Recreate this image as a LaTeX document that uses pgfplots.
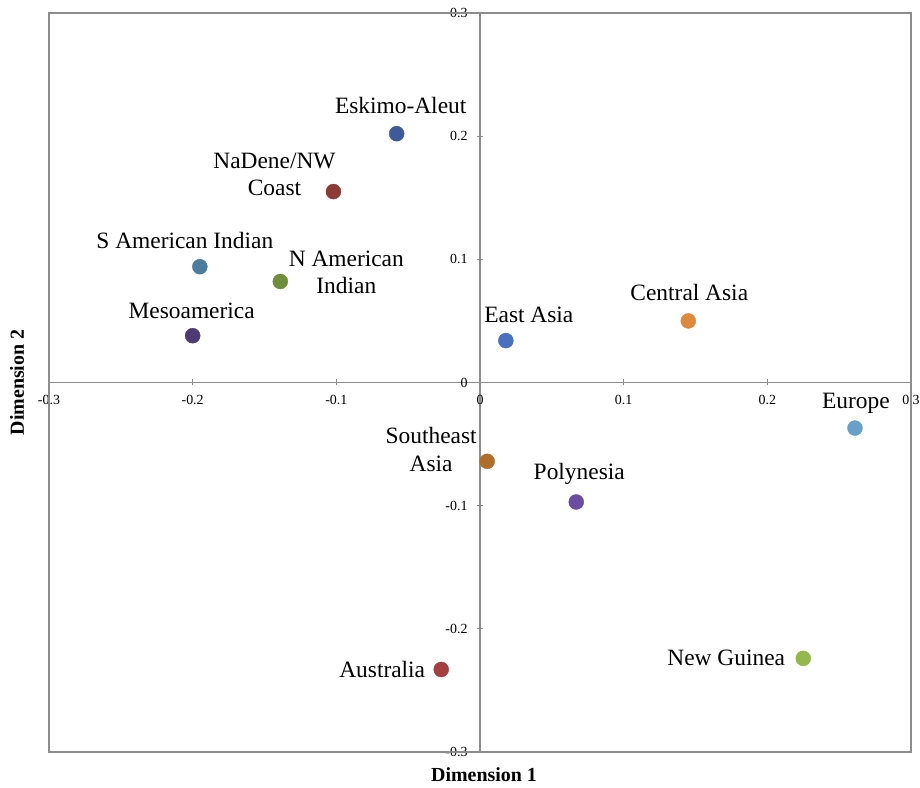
\documentclass[border=0pt]{standalone}
\usepackage{fontspec}
\setmainfont{Liberation Serif}
\usepackage{pgfplots}
\pgfplotsset{compat=1.18}

\definecolor{axgray}{HTML}{8C8C8C}
\definecolor{cEskimo}{HTML}{3F5A9A}
\definecolor{cNaDene}{HTML}{8B3A36}
\definecolor{cSAm}{HTML}{4D7D9D}
\definecolor{cNAm}{HTML}{6F8E3A}
\definecolor{cMeso}{HTML}{4F3B74}
\definecolor{cEAsia}{HTML}{4A70C0}
\definecolor{cCAsia}{HTML}{DE8A3E}
\definecolor{cEurope}{HTML}{67A0C8}
\definecolor{cSEAsia}{HTML}{B06D2A}
\definecolor{cPoly}{HTML}{6A4DA0}
\definecolor{cAustralia}{HTML}{A53E3E}
\definecolor{cNGuinea}{HTML}{95B84C}

\newcommand{\labelfont}{\fontsize{23.5}{27.5}\selectfont}

% one coloured point with its name: colour, x, y, name, xshift, yshift
\newcommand{\region}[6]{%
  \addplot[only marks, mark=*, mark size=7.5bp, draw=#1, fill=#1,
    nodes near coords={#4},
    every node near coord/.append style={anchor=center, align=center,
      font=\labelfont, text=black, inner sep=0pt, xshift=#5, yshift=#6}]
    coordinates {(#2,#3)};
}

\begin{document}
\begin{tikzpicture}
\useasboundingbox (-49bp,-36bp) rectangle (871bp,752bp);
\begin{axis}[
  at={(0,0)}, anchor=south west,
  width=862bp, height=739bp, scale only axis,
  xmin=-0.3, xmax=0.3, ymin=-0.3, ymax=0.3,
  axis lines=middle,
  axis line style={-, axgray, line width=1.1bp},
  hide obscured x ticks=false, hide obscured y ticks=false,
  xtick={-0.3,-0.2,-0.1,0,0.1,0.2,0.3},
  ytick={-0.3,-0.2,-0.1,0,0.1,0.2,0.3},
  tick align=center, major tick length=6bp,
  tick style={axgray, line width=1bp},
  /pgf/number format/assume math mode=true,
  ticklabel style={font=\fontsize{14}{16}\selectfont},
  xticklabel style={anchor=north, yshift=-6bp},
  yticklabel style={anchor=east, xshift=-6bp},
  xlabel={Dimension 1}, ylabel={Dimension 2},
  xlabel style={at={(rel axis cs:0.5,0)}, anchor=center, xshift=4bp, yshift=-23bp,
    font=\fontsize{20}{24}\selectfont\bfseries, inner sep=0pt},
  ylabel style={at={(rel axis cs:0,0.5)}, anchor=center, rotate=90, yshift=32bp,
    font=\fontsize{20}{24}\selectfont\bfseries, inner sep=0pt},
  clip=false,
]
\draw[axgray, line width=1.1bp] (rel axis cs:0,0) rectangle (rel axis cs:1,1);

\region{cEskimo}{-0.058}{0.202}{Eskimo-Aleut}{4bp}{28bp}
\region{cNaDene}{-0.102}{0.155}{NaDene/NW\\Coast}{-59bp}{17bp}
\region{cSAm}{-0.195}{0.094}{S American Indian}{-15bp}{26bp}
\region{cNAm}{-0.139}{0.082}{N American\\Indian}{66bp}{9bp}
\region{cMeso}{-0.200}{0.038}{Mesoamerica}{-1bp}{25bp}
\region{cEAsia}{0.018}{0.034}{East Asia}{23bp}{26bp}
\region{cCAsia}{0.145}{0.050}{Central Asia}{1bp}{28bp}
\region{cEurope}{0.261}{-0.037}{Europe}{1bp}{25bp}
\region{cSEAsia}{0.005}{-0.064}{Southeast\\Asia}{-56bp}{12bp}
\region{cPoly}{0.067}{-0.097}{Polynesia}{3bp}{28bp}
\region{cAustralia}{-0.027}{-0.233}{Australia}{-59bp}{0bp}
\region{cNGuinea}{0.225}{-0.224}{New Guinea}{-77bp}{1bp}
\end{axis}
\end{tikzpicture}
\end{document}
